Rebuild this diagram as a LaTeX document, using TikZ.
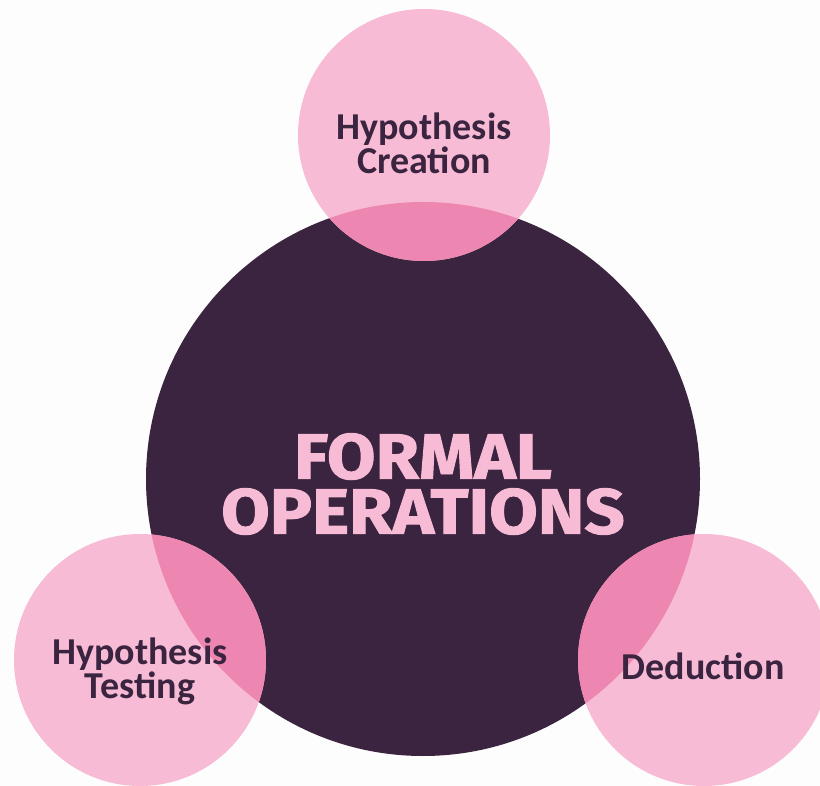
\documentclass[tikz,border=0pt]{standalone}
\usepackage{fontspec}
\setmainfont{Carlito}
\newfontfamily\titlefont[FakeStretch=1.1, FakeBold=1.5]{Fira Sans}
\definecolor{bgwhite}{HTML}{FEFDFD}
\definecolor{darkplum}{HTML}{3B2440}
\definecolor{softpink}{HTML}{F7BBD5}
\definecolor{hotpink}{HTML}{EE86B2}
\definecolor{labeltext}{HTML}{3A2440}
\tikzset{
  bubble/.style={circle, fill=softpink, draw=none, minimum size=252pt, inner sep=0pt},
  core/.style={circle, fill=darkplum, draw=none, minimum size=554pt, inner sep=0pt},
  bubbletext/.style={align=center, text=labeltext, font=\fontsize{38}{34}\selectfont\bfseries},
  titletext/.style={align=center, text=softpink, font=\titlefont\fontsize{64}{55}\selectfont\bfseries}
}
\begin{document}
\begin{tikzpicture}[x=1pt,y=-1pt]
\fill[bgwhite] (0,0) rectangle (820,786);
\useasboundingbox (0,0) rectangle (820,786);
\node[core] (core) at (423,479) {};
\node[bubble] (top) at (424,135) {};
\node[bubble] (left) at (140,660) {};
\node[bubble] (right) at (704,660) {};
\begin{scope}
  \clip (423,479) circle (277pt);
  \fill[hotpink] (424,135) circle (126pt);
  \fill[hotpink] (140,660) circle (126pt);
  \fill[hotpink] (704,660) circle (126pt);
\end{scope}
\node[bubbletext] (toptext) at (424,143) {Hypothesis\\Creation};
\node[bubbletext] (lefttext) at (140,671) {Hypothesis\\Testing};
\node[bubbletext] (righttext) at (703,666) {Deduction};
\node[titletext] (title) at (423,484) {FORMAL\\OPERATIONS};
\end{tikzpicture}
\end{document}
